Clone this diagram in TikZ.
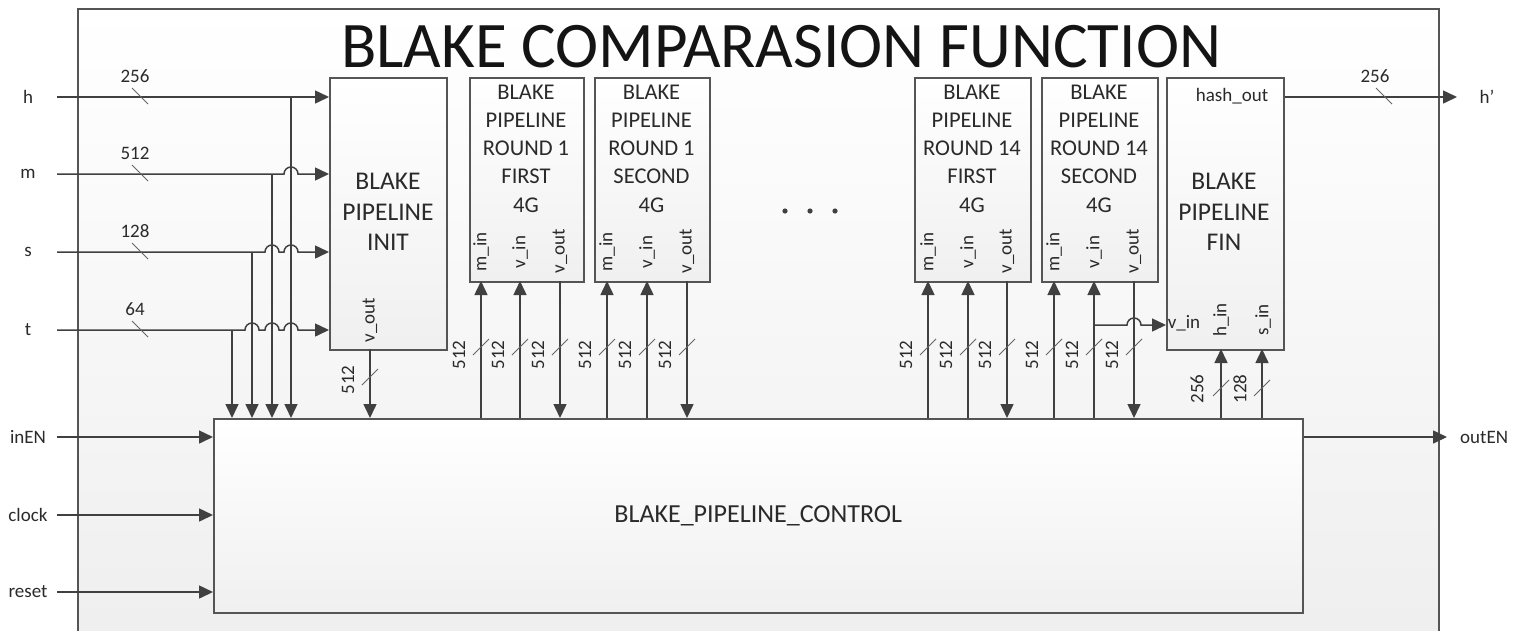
\documentclass[tikz,border=0pt]{standalone}
\usepackage{fontspec}
\setmainfont{Carlito}
\usetikzlibrary{arrows.meta,calc}
\definecolor{ln}{HTML}{404040}
\definecolor{tx}{HTML}{2A2A2A}
\definecolor{bd}{HTML}{555555}
\begin{document}
\begin{tikzpicture}[x=1pt,y=-1pt,
  wire/.style={draw=ln,line width=1.5pt},
  arr/.style={wire,-{Triangle[length=14pt,width=13pt]}},
  sl/.style={draw=ln!80,line width=1pt},
  blk/.style={draw=bd,line width=1.5pt,top color=white,bottom color=gray!12,inner sep=0pt,anchor=north west},
  lbl/.style={text=tx,font=\fontsize{19}{22}\selectfont,inner sep=0pt},
  port/.style={lbl,rotate=90},
  rtxt/.style={text=tx,font=\fontsize{22.5}{28.3}\selectfont,align=center,inner sep=0pt},
  itxt/.style={text=tx,font=\fontsize{25.5}{30.5}\selectfont,align=center,inner sep=0pt}
]
\useasboundingbox (0,0) rectangle (1523,630);
% outer frame
\node[draw=bd,line width=1.5pt,top color=white,bottom color=gray!13,inner sep=0pt,anchor=north west,minimum width=1361pt,minimum height=640pt] (frame) at (77,8) {};
\node[text=black!92,font=\fontsize{65}{72}\selectfont,inner sep=0pt] (title) at (781,47) {BLAKE COMPARASION FUNCTION};

% blocks
\node[blk,minimum width=117pt,minimum height=272pt] (init) at (329,77) {};
\node[itxt] (initt) at (388,212) {BLAKE\\PIPELINE\\INIT};
\node[port] (initvo) at (370,320) {v\_out};
\node[blk,minimum width=117pt,minimum height=272pt] (fin) at (1166,77) {};
\node[itxt] (fint) at (1224,212) {BLAKE\\PIPELINE\\FIN};
\node[lbl] (hashout) at (1232,96) {hash\_out};
\node[lbl] (finvi) at (1184,323) {v\_in};
\node[port] (finhi) at (1221,320) {h\_in};
\node[port] (finsi) at (1263,320) {s\_in};
\node[blk,minimum width=1089pt,minimum height=194pt,text=tx,font=\fontsize{26}{30}\selectfont] (ctl) at (213,418) {BLAKE\_PIPELINE\_CONTROL};

% round blocks
\foreach \nm/\xl/\w/\rn/\fs/\pm/\pv/\po in {r1a/469/114/1/FIRST/481/520/560, r1b/594/115/1/SECOND/607/647/687, r14a/914/116/14/FIRST/928/968/1007, r14b/1041/116/14/SECOND/1054/1094/1134}{
  \node[blk,minimum width=\w pt,minimum height=204pt] (\nm) at (\xl,77) {};
  \node[rtxt] (\nm-t) at ({\xl+\w/2},148.5) {BLAKE\\PIPELINE\\ROUND \rn\\\fs\\4G};
  \node[port] (\nm-lm) at (\pm,252) {m\_in};
  \node[port] (\nm-lv) at (\pv,252) {v\_in};
  \node[port] (\nm-lo) at (\po,251) {v\_out};
  \coordinate (\nm-m) at (\pm,281);
  \coordinate (\nm-v) at (\pv,281);
  \coordinate (\nm-o) at (\po,281);
  \draw[arr] (\nm-m |- ctl.north) -- (\nm-m);
  \draw[arr] (\nm-v |- ctl.north) -- (\nm-v);
  \draw[arr] (\nm-o) -- (\nm-o |- ctl.north);
  \foreach \xx in {\pm,\pv,\po}{
    \draw[sl] (\xx-8,355) -- (\xx+8,339);
    \node[port] at (\xx-22,355) {512};
  }
}
% dots
\foreach \dx [count=\i] in {785,810,835}{\fill[ln] (\dx,211) circle[radius=2.6] coordinate (dot\i);}

% left inputs
\node[lbl] (h) at (28,97) {h};
\node[lbl] (m) at (28,174) {m};
\node[lbl] (s) at (28,252) {s};
\node[lbl] (t) at (28,330) {t};
\coordinate (hs) at (57,97);
\coordinate (ms) at (57,174);
\coordinate (ss) at (57,252);
\coordinate (ts) at (57,330);
\coordinate (hj) at (291,97);
\coordinate (mj) at (272,174);
\coordinate (sj) at (252,252);
\coordinate (tj) at (232,330);
\draw[arr] (hs) -- (init.west |- hs);
\draw[arr] (ms) -- (284,174) arc[start angle=180,end angle=360,radius=7] -- (init.west |- ms);
\draw[arr] (ss) -- (265,252) arc[start angle=180,end angle=360,radius=7] -- (284,252) arc[start angle=180,end angle=360,radius=7] -- (init.west |- ss);
\draw[arr] (ts) -- (245,330) arc[start angle=180,end angle=360,radius=7] -- (265,330) arc[start angle=180,end angle=360,radius=7] -- (284,330) arc[start angle=180,end angle=360,radius=7] -- (init.west |- ts);
\foreach \c in {hj,mj,sj,tj}{\draw[arr] (\c) -- (\c |- ctl.north);}
\foreach \yy/\bw in {97/256,174/512,252/128,330/64}{
  \draw[sl] (132,\yy-9) -- (148,\yy+7);
  \node[lbl] at (135,\yy-21) {\bw};
}
% init v_out
\coordinate (ivo) at (370,349);
\draw[arr] (ivo) -- (ivo |- ctl.north);
\draw[sl] (362,385) -- (378,369);
\node[port] at (348,380) {512};

% control inputs
\node[lbl] (inen) at (28,437) {inEN};
\node[lbl] (clock) at (28,515) {clock};
\node[lbl] (reset) at (28,592) {reset};
\foreach \yy/\nn in {437/ie,515/ck,592/rs}{
  \coordinate (\nn) at (57,\yy);
  \draw[arr] (\nn) -- (ctl.west |- \nn);
}
% outEN
\coordinate (oe) at (1447,437);
\node[lbl,anchor=west] (outen) at (1460,437) {outEN};
\draw[arr] (ctl.east |- oe) -- (oe);

% fin inputs
\coordinate (vj) at (1094,325);
\draw[arr] (vj) -- (1127,325) arc[start angle=180,end angle=360,radius=7] -- (fin.west |- vj);
\coordinate (fh) at (1221,349);
\coordinate (fs) at (1262,349);
\draw[arr] (fh |- ctl.north) -- (fh);
\draw[arr] (fs |- ctl.north) -- (fs);
\draw[sl] (1213,396) -- (1229,380);
\node[port] at (1197,389) {256};
\draw[sl] (1254,396) -- (1270,380);
\node[port] at (1240,389) {128};

% output h'
\coordinate (ho) at (1457,97);
\draw[arr] (fin.east |- ho) -- (ho);
\draw[sl] (1376,88) -- (1392,104);
\node[lbl] at (1375,76) {256};
\node[lbl] (hp) at (1487,97) {h’};
\end{tikzpicture}
\end{document}
